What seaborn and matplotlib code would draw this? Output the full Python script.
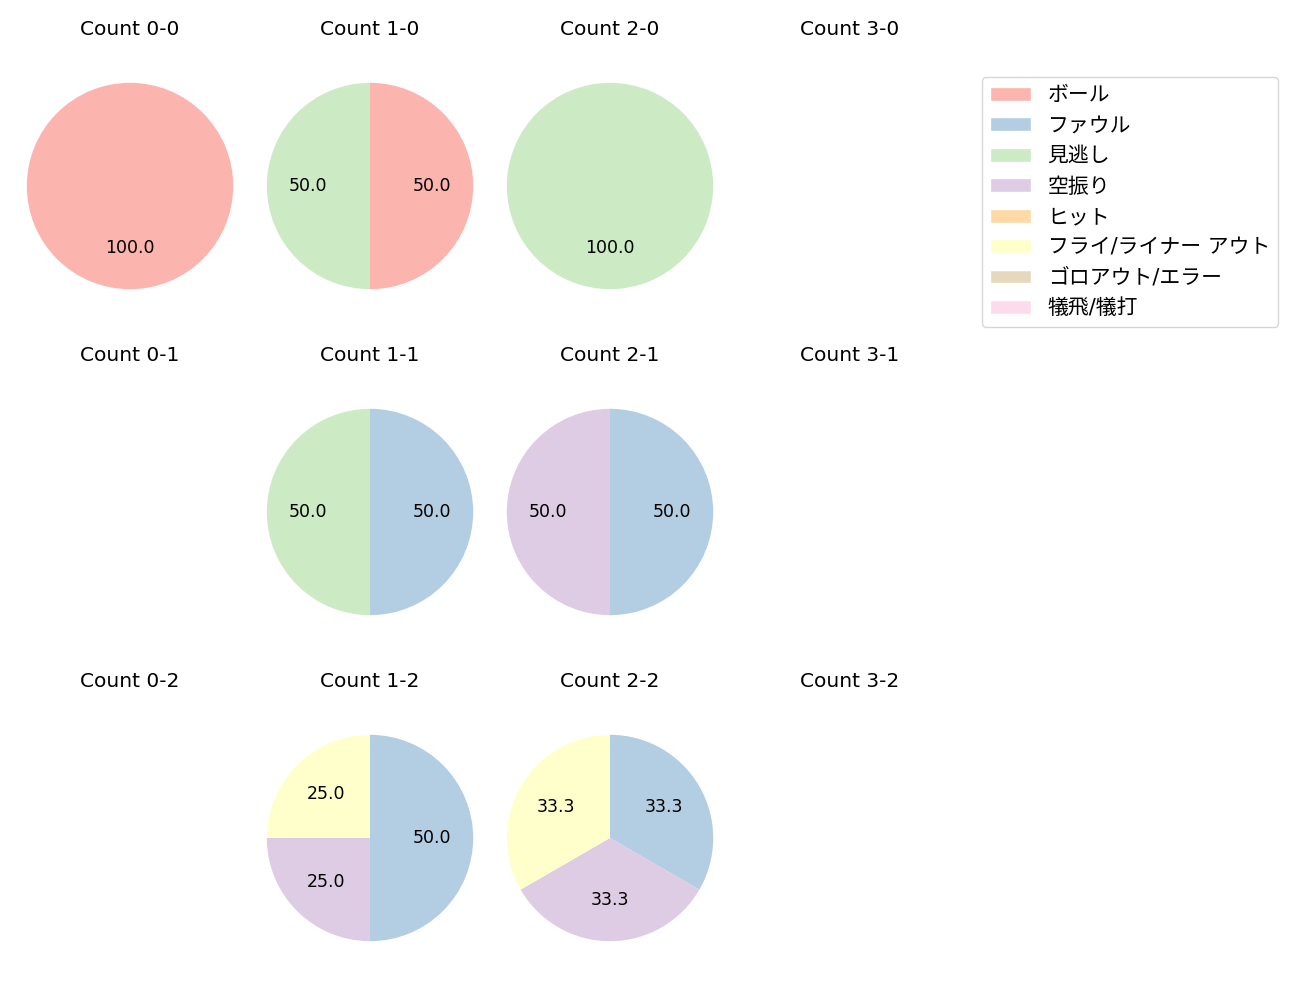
import matplotlib
matplotlib.use("Agg")
import matplotlib.pyplot as plt
from matplotlib.patches import Patch
import seaborn as sns

sns.set_theme(style="white")
plt.rcParams['font.family'] = ['DejaVu Sans', 'Noto Sans CJK JP']
plt.rcParams['text.color'] = 'black'
plt.rcParams['axes.titlecolor'] = 'black'

outcomes = ["ボール", "ファウル", "見逃し", "空振り", "ヒット",
            "フライ/ライナー アウト", "ゴロアウト/エラー", "犠飛/犠打"]

count_0_0 = [1, 0, 0, 0, 0, 0, 0, 0]
count_1_0 = [1, 0, 1, 0, 0, 0, 0, 0]
count_2_0 = [0, 0, 1, 0, 0, 0, 0, 0]
count_3_0 = [0, 0, 0, 0, 0, 0, 0, 0]
count_0_1 = [0, 0, 0, 0, 0, 0, 0, 0]
count_1_1 = [0, 1, 1, 0, 0, 0, 0, 0]
count_2_1 = [0, 1, 0, 1, 0, 0, 0, 0]
count_3_1 = [0, 0, 0, 0, 0, 0, 0, 0]
count_0_2 = [0, 0, 0, 0, 0, 0, 0, 0]
count_1_2 = [0, 2, 0, 1, 0, 1, 0, 0]
count_2_2 = [0, 1, 0, 1, 0, 1, 0, 0]
count_3_2 = [0, 0, 0, 0, 0, 0, 0, 0]

grid = [
    [("0-0", count_0_0), ("1-0", count_1_0), ("2-0", count_2_0), ("3-0", count_3_0)],
    [("0-1", count_0_1), ("1-1", count_1_1), ("2-1", count_2_1), ("3-1", count_3_1)],
    [("0-2", count_0_2), ("1-2", count_1_2), ("2-2", count_2_2), ("3-2", count_3_2)],
]

colors = sns.color_palette("Pastel1", len(outcomes))

W, H = 1300, 1000
fig = plt.figure(figsize=(13, 10), dpi=100)

col_cx = [130, 370, 610, 850]
row_cy = [186, 512, 838]
side = 258  # axes side in px (pie radius = side/2.5)

for r, row in enumerate(grid):
    for c, (name, vals) in enumerate(row):
        cx, cy = col_cx[c], row_cy[r]
        ax = fig.add_axes([(cx - side / 2) / W, 1 - (cy + side / 2) / H, side / W, side / H])
        ax.set_title(f"Count {name}", fontsize=14.5, pad=16)
        nz = [(v, colors[i]) for i, v in enumerate(vals) if v > 0]
        if nz:
            ax.pie([v for v, _ in nz], colors=[col for _, col in nz],
                   autopct="%.1f", startangle=90, counterclock=False,
                   wedgeprops={"linewidth": 0, "edgecolor": "none"},
                   textprops={"fontsize": 12.5, "color": "black"})
            ax.set_xlim(-1.25, 1.25)
            ax.set_ylim(-1.25, 1.25)
            ax.set_aspect("equal")
        else:
            ax.set_xticks([])
            ax.set_yticks([])
            for s in ax.spines.values():
                s.set_visible(False)

handles = [Patch(facecolor=colors[i], label=outcomes[i]) for i in range(len(outcomes))]
fig.legend(handles=handles, loc="upper left", bbox_to_anchor=(982 / W, 1 - 77 / H),
           fontsize=15, frameon=True, borderaxespad=0, labelspacing=0.5,
           handlelength=1.95, handleheight=0.65, handletextpad=0.8)

fig.savefig("out.png", dpi=100)
